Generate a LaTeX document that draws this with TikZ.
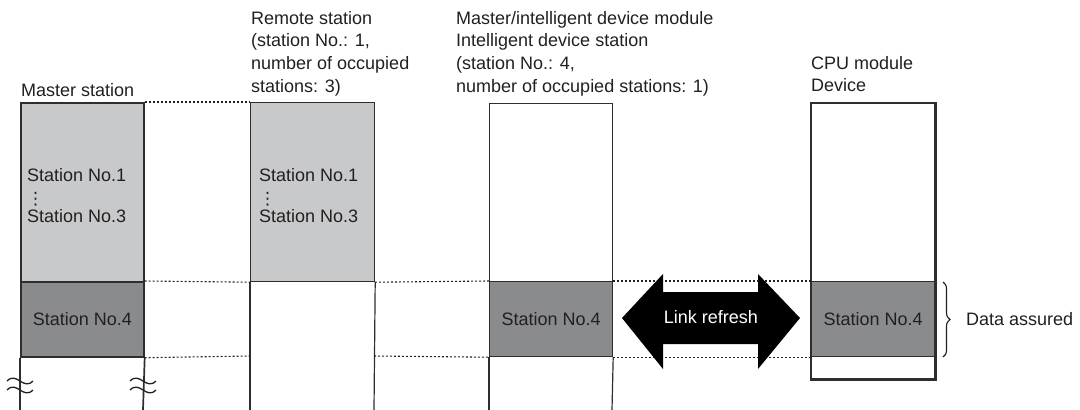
\documentclass[tikz,border=0pt]{standalone}
\usepackage{fontspec}
\setmainfont{Liberation Sans}
\newfontfamily\dejavu{DejaVu Sans}
\usetikzlibrary{decorations.pathreplacing}
\definecolor{lg}{HTML}{C8C9CA}
\definecolor{dg}{HTML}{8A8B8D}
\definecolor{ink}{HTML}{231F20}
\definecolor{edge}{HTML}{2E2E2E}
\newcommand{\vdotsx}{\raisebox{-3pt}{\dejavu\fontsize{17}{17}\selectfont ⋮}}
\begin{document}
\begin{tikzpicture}[x=1pt,y=-1pt,
  font=\fontsize{18}{22.6}\selectfont, text=ink,
  box/.style={draw=edge, rectangle, inner sep=0pt, anchor=north west, line width=1.2pt},
  lightbox/.style={box, fill=lg},
  darkbox/.style={box, fill=dg},
  whitebox/.style={box, fill=white},
  colline/.style={draw=edge, line width=1.2pt},
  dotline/.style={draw=ink, line width=1.1pt, dash pattern=on 2pt off 2pt},
  label/.style={align=left, anchor=north west, inner sep=0pt},
  squig/.style={draw=ink, line width=1.3pt}
]
\useasboundingbox (0,0) rectangle (1080,410);

% ---- Master station column
\node[lightbox, line width=1.7pt, minimum width=123pt, minimum height=179pt] (mL) at (20,102) {};
\node[darkbox, line width=1.7pt, minimum width=123pt, minimum height=75pt] (mD) at (20,281) {Station No.4};
\coordinate (mBL) at (20,410);
\coordinate (mBR) at (143,410);
\draw[colline, line width=1.7pt] (mD.south west) -- (mBL);
\draw[colline, line width=1.7pt] (mD.south east) -- (mBR);
\node[label, font=\fontsize{18}{20.5}\selectfont] (mLt) at (27,168) {Station No.1\\\vdotsx\\Station No.3};
\node[anchor=west, inner sep=0pt] (mTitle) at (21,90) {Master station};

% ---- Remote station column
\node[lightbox, minimum width=124pt, minimum height=179pt] (rL) at (250,102) {};
\coordinate (rB1) at (250,356);
\coordinate (rB2) at (374,356);
\coordinate (rBL) at (250,410);
\coordinate (rBR) at (374,410);
\draw[colline] (rL.south west) -- (rBL);
\draw[colline] (rL.south east) -- (rBR);
\node[label, font=\fontsize{18}{20.5}\selectfont] (rLt) at (259,168) {Station No.1\\\vdotsx\\Station No.3};
\node[label] (rTitle) at (251,11) {Remote station\\(station No.: 1,\\number of occupied\\stations: 3)};

% ---- Intelligent device station column
\node[whitebox, minimum width=123pt, minimum height=178pt] (iT) at (489,103) {};
\node[darkbox, minimum width=123pt, minimum height=75pt] (iD) at (489,281) {Station No.4};
\coordinate (iBL) at (489,410);
\coordinate (iBR) at (612,410);
\draw[colline] (iD.south west) -- (iBL);
\draw[colline] (iD.south east) -- (iBR);
\node[label] (iTitle) at (456,11) {Master/intelligent device module\\Intelligent device station\\(station No.: 4,\\number of occupied stations: 1)};

% ---- CPU module device
\node[whitebox, minimum width=123pt, minimum height=178pt] (cT) at (811,103) {};
\node[darkbox, minimum width=123pt, minimum height=75pt] (cD) at (811,281) {Station No.4};
\node[whitebox, minimum width=123pt, minimum height=22pt] (cB) at (811,356) {};
\draw[draw=edge, line width=2.6pt] (cT.north west) rectangle (cB.south east);
\node[label] (cTitle) at (811,56) {CPU module\\Device};

% ---- dotted guide lines
\draw[dotline] (mL.north east) -- (rL.north west);
\draw[dotline] (mD.north east) -- (rL.south west);
\draw[dotline] (mD.south east) -- (rB1);
\draw[dotline] (rL.south east) -- (iD.north west);
\draw[dotline] (rB2) -- (iD.south west);
\draw[dotline] (iD.north east) -- (cD.north west);
\draw[dotline] (iD.south east) -- (cD.south west);

% ---- Link refresh double arrow
\fill[black] (622,318) -- (663,274) -- (663,292) -- (758,292) -- (758,274) -- (800,318)
  -- (758,369) -- (758,344) -- (663,344) -- (663,369) -- cycle;
\node[text=white, inner sep=0pt] (lr) at (711,317) {Link refresh};

% ---- brace and Data assured
\coordinate (brT) at (943,282);
\coordinate (brB) at (943,357);
\draw[draw=ink, line width=1.1pt, decorate, decoration={brace, amplitude=7pt}] (brT) -- (brB);
\node[anchor=west, inner sep=0pt] (da) at (966,319) {Data assured};

% ---- break marks
\foreach \x in {20,143}{
  \foreach \y in {381,390}{
    \draw[squig] (\x-13,\y) .. controls (\x-3,\y-10) and (\x+3,\y+10) .. (\x+13,\y);
  }
}
\end{tikzpicture}
\end{document}
